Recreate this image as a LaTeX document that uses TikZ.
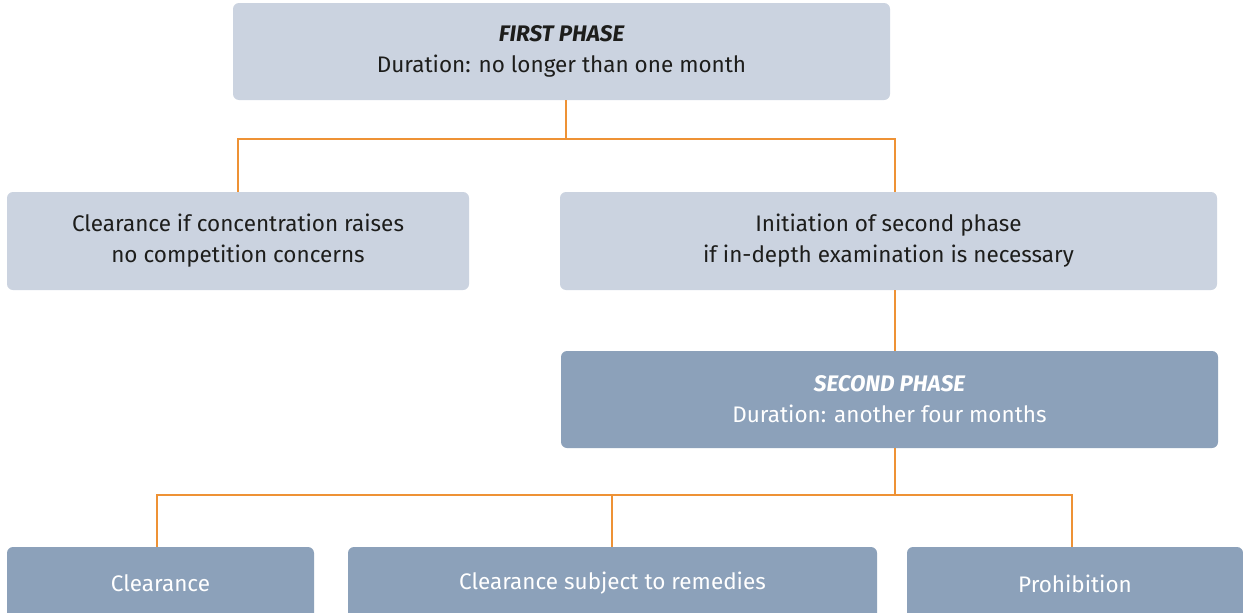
\documentclass[tikz,border=0pt]{standalone}
\usepackage{fontspec}
\setmainfont{Fira Sans}
\usetikzlibrary{calc}

\definecolor{boxlight}{HTML}{CBD3E0}
\definecolor{boxdark}{HTML}{8CA1BA}
\definecolor{linkorange}{HTML}{EE9235}
\definecolor{inktext}{HTML}{1D1D1B}

\tikzset{
  phasebox/.style={rectangle, rounded corners=6pt, inner sep=0pt, align=center,
    font=\fontsize{22.5}{31}\selectfont},
  lightbox/.style={phasebox, fill=boxlight, text=inktext},
  darkbox/.style={phasebox, fill=boxdark, text=white},
  link/.style={draw=linkorange, line width=1.6pt}
}

\begin{document}
\begin{tikzpicture}[x=1pt, y=-1pt]
  \clip (0,0) rectangle (1243,613);
  \fill[white] (0,0) rectangle (1243,613);

  % first phase and its two outcomes
  \node[lightbox, minimum width=657pt, minimum height=97pt] (first) at (561.5,51.5)
    {{\bfseries\itshape FIRST PHASE}\\Duration: no longer than one month};
  \node[lightbox, minimum width=462pt, minimum height=98pt] (clr1) at (238,241)
    {Clearance if concentration raises\\no competition concerns};
  \node[lightbox, minimum width=657pt, minimum height=98pt] (init) at (888.5,241)
    {Initiation of second phase\\if in-depth examination is necessary};

  % second phase
  \node[darkbox, minimum width=657pt, minimum height=97pt] (second) at (889.5,399.5)
    {{\bfseries\itshape SECOND PHASE}\\Duration: another four months};

  % final decisions
  \node[darkbox, minimum width=307pt, minimum height=73pt] (dec1) at (160.5,583.5) {Clearance};
  \node[darkbox, minimum width=529pt, minimum height=73pt] (dec2) at (612.5,583.5) {Clearance subject to remedies};
  \node[darkbox, minimum width=336pt, minimum height=73pt] (dec3) at (1075,583.5) {Prohibition};

  % connectors
  \coordinate (bus1) at (566,139);
  \coordinate (bus2) at (895,495);
  \draw[link] (first.south -| bus1) -- (bus1);
  \draw[link] (clr1.north) |- (bus1) -| ([xshift=6.5pt]init.north);
  \draw[link] ([xshift=6.5pt]init.south) -- ([xshift=5.5pt]second.north);
  \draw[link] ([xshift=5.5pt]second.south) -- (bus2);
  \draw[link] ([xshift=-3.5pt]dec1.north) |- (bus2) -| ([xshift=-3pt]dec3.north);
  \draw[link] ([xshift=-0.5pt]dec2.north) -- ([xshift=-0.5pt]dec2.north |- bus2);
\end{tikzpicture}
\end{document}
